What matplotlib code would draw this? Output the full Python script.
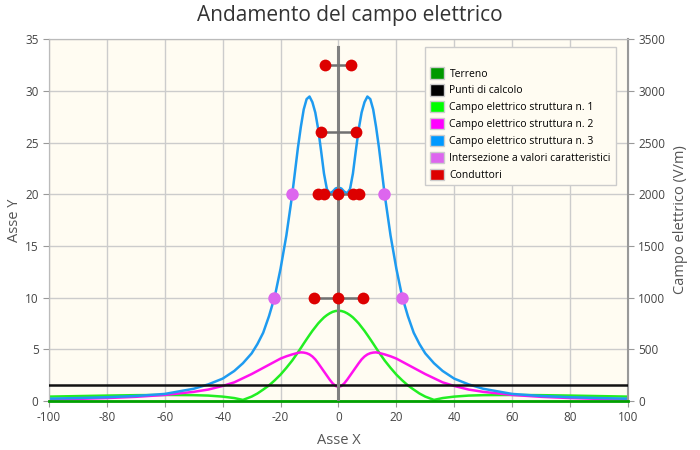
import matplotlib
matplotlib.use("Agg")
import matplotlib.pyplot as plt
from matplotlib.patches import Patch

# distanza dall'asse (m)
X = [-100, -90, -80, -70, -60, -50, -45, -40, -36, -33, -30, -28, -26, -24, -22, -20, -18, -16,
     -14, -13, -12, -11, -10, -9, -8, -7, -6, -5, -4, -3, -2, -1, 0,
     1, 2, 3, 4, 5, 6, 7, 8, 9, 10, 11, 12, 13, 14,
     16, 18, 20, 22, 24, 26, 28, 30, 33, 36, 40, 45, 50, 60, 70, 80, 90, 100]

# campo elettrico (V/m) per struttura
E1 = [42, 47, 52, 56, 58, 56, 52, 42, 28, 10, 42, 72, 110, 150, 200, 255, 320, 390,
      470, 512, 555, 597, 638, 678, 714, 750, 780, 808, 830, 848, 862, 870, 873,
      870, 862, 848, 830, 808, 780, 750, 714, 678, 638, 597, 555, 512, 470,
      390, 320, 255, 200, 150, 110, 72, 42, 10, 28, 42, 52, 56, 58, 56, 52, 47, 42]
E2 = [15, 20, 28, 40, 58, 88, 110, 145, 180, 220, 260, 290, 320, 350, 380, 410, 432, 450,
      465, 470, 468, 462, 450, 430, 402, 365, 325, 285, 245, 205, 170, 145, 135,
      145, 170, 205, 245, 285, 325, 365, 402, 430, 450, 462, 468, 470, 465,
      450, 432, 410, 380, 350, 320, 290, 260, 220, 180, 145, 110, 88, 58, 40, 28, 20, 15]
E3 = [22, 28, 36, 48, 68, 118, 160, 216, 290, 365, 460, 550, 660, 820, 1010, 1280, 1600, 1990,
      2450, 2650, 2820, 2920, 2945, 2890, 2790, 2630, 2420, 2200, 2050, 2010, 2025, 2055, 2065,
      2055, 2025, 2010, 2050, 2200, 2420, 2630, 2790, 2890, 2945, 2920, 2820, 2650, 2450,
      1990, 1600, 1280, 1010, 820, 660, 550, 460, 365, 290, 216, 160, 118, 68, 48, 36, 28, 22]

# conduttori (x, y in m) per livello
cond_levels = [32.5, 26, 20, 10]
cond_x = [[-4.5, 4.5], [-6.1, 6.1], [-7.0, -5.1, 0, 5.1, 7.0], [-8.6, 0, 8.6]]

# intersezioni con valori caratteristici
inter_x = [-15.9, 15.9, -22.1, 22.1]
inter_y = [20, 20, 10, 10]

punti_y = 1.5
sostegno_h = 34.2

plt.rcParams['font.family'] = ['Open Sans', 'DejaVu Sans']
plt.rcParams['axes.unicode_minus'] = False

cream = '#FFFCF2'
fig = plt.figure(figsize=(7, 4.5), dpi=100)
ax = fig.add_axes([0.07, 0.109, 0.827, 0.804])
ax.set_facecolor(cream)
ax2 = ax.twinx()
ax3 = ax.twinx()

ax.set_xlim(-100, 100)
ax.set_ylim(0, 35)
ax.set_xticks(range(-100, 101, 20))
ax.set_yticks(range(0, 36, 5))
ax.grid(True, color='#CCCCCC', lw=1)
ax.set_axisbelow(True)

ax2.set_ylim(0, 3500)
ax2.set_yticks(range(0, 3501, 500))
ax2.plot(X, E1, color='#22EE22', lw=1.8)
ax2.plot(X, E2, color='#FF11EE', lw=1.8)
ax2.plot(X, E3, color='#1E9BF0', lw=1.8)

ax3.set_ylim(0, 35)
ax3.set_axis_off()
ax3.axhline(0, color='#00A000', lw=2, clip_on=False)
ax3.axhline(punti_y, color='#111111', lw=1.8)
ax3.plot([0, 0], [0, sostegno_h], color='#808080', lw=2.2)
for y, xs in zip(cond_levels, cond_x):
    ax3.plot([min(xs), max(xs)], [y, y], color='#707070', lw=1.8)
    ax3.plot(xs, [y] * len(xs), 'o', color='#DD0000', ms=8.5, mec='none')
ax3.plot(inter_x, inter_y, 'o', color='#DD66EE', ms=9, mec='none')

for a in (ax, ax2):
    for s in a.spines.values():
        s.set_color('#BBBBBB')
ax2.spines['right'].set_color('#999999')
ax2.spines['right'].set_linewidth(1.5)
ax.tick_params(colors='#444444', labelsize=8.5, length=4, color='#999999')
ax2.tick_params(colors='#444444', labelsize=8.5, length=4, color='#999999')

fig.text(339 / 700, 1 - 440 / 450, 'Asse X', fontsize=10.5, color='#555555', ha='center', va='center')
fig.text(14 / 700, 1 - 220 / 450, 'Asse Y', fontsize=10.5, color='#555555', ha='center', va='center',
         rotation=90)
fig.text(681 / 700, 1 - 220 / 450, 'Campo elettrico (V/m)', fontsize=10.5, color='#555555',
         ha='center', va='center', rotation=90)
fig.text(0.5, 1 - 15 / 450, 'Andamento del campo elettrico', fontsize=15, color='#333333',
         ha='center', va='center')

handles = [
    Patch(facecolor='#009900', edgecolor='#CCCCCC', label='Terreno'),
    Patch(facecolor='#000000', edgecolor='#CCCCCC', label='Punti di calcolo'),
    Patch(facecolor='#00FF00', edgecolor='#CCCCCC', label='Campo elettrico struttura n. 1'),
    Patch(facecolor='#FF00FF', edgecolor='#CCCCCC', label='Campo elettrico struttura n. 2'),
    Patch(facecolor='#0099FF', edgecolor='#CCCCCC', label='Campo elettrico struttura n. 3'),
    Patch(facecolor='#DD66EE', edgecolor='#CCCCCC', label='Intersezione a valori caratteristici'),
    Patch(facecolor='#DD0000', edgecolor='#CCCCCC', label='Conduttori'),
]
leg = ax3.legend(handles=handles, loc='upper left', bbox_to_anchor=(425 / 700, 1 - 47 / 450),
                 bbox_transform=fig.transFigure, borderaxespad=0, fontsize=7.5, frameon=True,
                 fancybox=False, edgecolor='#CCCCCC', framealpha=1, facecolor=cream,
                 handlelength=1.4, handleheight=1.3, handletextpad=0.5, labelspacing=0.45,
                 borderpad=0.45, title=' ', title_fontsize=8, alignment='left')

fig.savefig('out.png', dpi=100)
